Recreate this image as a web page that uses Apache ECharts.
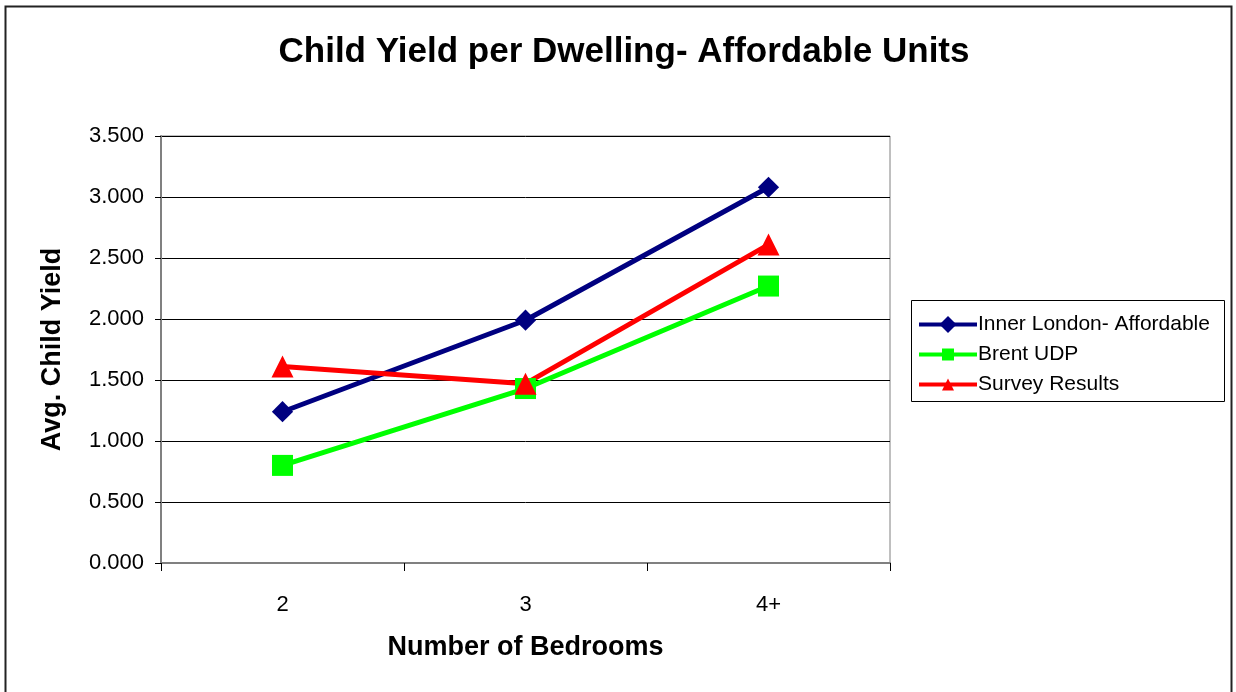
<!DOCTYPE html>
<html>
<head>
<meta charset="utf-8">
<script src="https://cdn.jsdelivr.net/npm/echarts@6/dist/echarts.min.js"></script>
<style>
  html, body { margin: 0; padding: 0; background: #fff; }
  #chart { width: 1236px; height: 692px; }
</style>
</head>
<body>
<div id="chart"></div>
<script>
// Bedroom categories on the x axis
const bedrooms = ['2', '3', '4+'];

// Average child yield per dwelling, one array per source
const innerLondon = [1.24, 1.99, 3.08];
const brentUDP = [0.80, 1.43, 2.27];
const surveyResults = [1.61, 1.47, 2.61];

const seriesNames = ['Inner London- Affordable', 'Brent UDP', 'Survey Results'];

const FONT = '"Liberation Sans", Arial, sans-serif';

const chart = echarts.init(document.getElementById('chart'));

function lineSeries(name, data, color, symbol, size, rotate) {
  return {
    name: name,
    type: 'line',
    data: data,
    symbol: symbol,
    symbolSize: size,
    symbolRotate: rotate || 0,
    showAllSymbol: true,
    lineStyle: { color: color, width: 5 },
    itemStyle: { color: color, borderWidth: 0 },
    emphasis: { disabled: true },
    z: 3
  };
}

chart.setOption({
  animation: false,
  backgroundColor: '#fff',
  textStyle: { fontFamily: FONT },
  title: {
    text: 'Child Yield per Dwelling- Affordable Units',
    left: 619,
    textAlign: 'center',
    top: 30,
    textStyle: { fontFamily: FONT, fontSize: 35, fontWeight: 'bold', color: '#000' }
  },
  grid: { left: 161, top: 136, width: 729, height: 427, containLabel: false,
          show: true, borderColor: '#808080', borderWidth: 1 },
  legend: {
    orient: 'vertical',
    left: 917,
    top: 314,
    itemWidth: 58,
    itemHeight: 15,
    itemGap: 9,
    padding: 0,
    lineStyle: { width: 4 },
    textStyle: { fontFamily: FONT, fontSize: 21, color: '#000', padding: [0, 0, 0, -4] },
    data: seriesNames
  },
  xAxis: {
    type: 'category',
    data: bedrooms,
    boundaryGap: true,
    name: 'Number of Bedrooms',
    nameLocation: 'middle',
    nameGap: 71,
    nameTextStyle: { fontFamily: FONT, fontSize: 27, fontWeight: 'bold', color: '#000' },
    axisLine: { lineStyle: { color: '#808080', width: 2 } },
    axisTick: { show: true, length: 8, lineStyle: { color: '#000' } },
    axisLabel: { fontFamily: FONT, fontSize: 22, color: '#000', margin: 31 },
    splitLine: { show: false }
  },
  yAxis: {
    type: 'value',
    min: 0,
    max: 3.5,
    interval: 0.5,
    name: 'Avg. Child Yield',
    nameLocation: 'middle',
    nameGap: 95,
    nameRotate: 90,
    nameTextStyle: { fontFamily: FONT, fontSize: 27, fontWeight: 'bold', color: '#000' },
    axisLine: { show: true, lineStyle: { color: '#808080', width: 2 } },
    axisTick: { show: true, length: 6, lineStyle: { color: '#000' } },
    axisLabel: { fontFamily: FONT, fontSize: 22, color: '#000', margin: 17,
                 formatter: v => v.toFixed(3) },
    splitLine: { show: true, lineStyle: { color: '#000', width: 1 } }
  },
  graphic: [
    { type: 'rect', shape: { x: 5.5, y: 6.5, width: 1226, height: 700 },
      style: { fill: 'none', stroke: '#222', lineWidth: 2 }, silent: true },
    { type: 'rect', shape: { x: 911.5, y: 300.5, width: 313, height: 101 },
      style: { fill: 'none', stroke: '#000', lineWidth: 1 }, silent: true }
  ],
  series: [
    lineSeries(seriesNames[0], innerLondon, '#000080', 'rect', 15, 45),
    lineSeries(seriesNames[1], brentUDP, '#00ff00', 'rect', 21),
    lineSeries(seriesNames[2], surveyResults, '#ff0000', 'triangle', 22)
  ]
});
</script>
</body>
</html>
